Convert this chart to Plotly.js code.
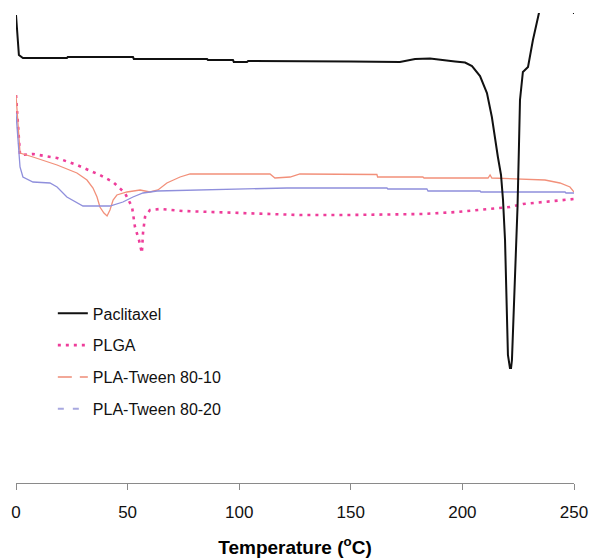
<!DOCTYPE html>
<html>
<head>
<meta charset="utf-8">
<script src="https://cdn.plot.ly/plotly-3.0.1.min.js"></script>
<style>html,body{margin:0;padding:0;background:#fff;}#chart{width:591px;height:558px;}</style>
</head>
<body>
<div id="chart"></div>
<script>
// Temperature (°C) and heat flow (arbitrary units)
var pacT = [0,1.3,3.1,22.8,23.2,52.4,52.8,85.6,86,97.2,97.6,103.5,104,127,150,172,178.8,185.5,190,196.7,201.2,204.3,207.9,211,213.2,214.6,215.9,217.3,218.2,219.1,219.5,220,220.4,221.3,221.8,222.2,222.7,223.3,224,224.7,225.3,225.8,227.1,229.4,231.6,234.3,236,249,250];
var pacY = [46.8,42.8,42.5,42.5,42.6,42.6,42.4,42.4,42.3,42.3,42.1,42.1,42.2,42.2,42.15,42.1,42.4,42.45,42.3,42.15,42.05,41.7,40.7,39.0,36.6,34.3,32.6,30.8,28.3,24.3,19.8,15.3,12.8,11.5,11.5,12.3,15.3,19.0,22.8,27.6,33.3,38.3,41.1,41.6,44.3,47.0,49.3,49.3,46.9];

var plgaT = [0,0.9,1.8,7.6,18.4,27.3,37.6,43.5,48.8,52,53.3,55.1,56.4,56.9,57.8,60,64.5,74.8,90,104.8,127,149.6,182.3,197.6,212.4,221.3,227.1,242.4,250];
var plgaY = [38.8,35.8,32.8,32.9,32.5,31.8,30.8,30.1,29.0,27.6,25.6,24.3,23.0,25.0,26.6,27.3,27.4,27.2,27.1,27.0,26.8,26.8,26.9,27.1,27.4,27.6,27.9,28.2,28.4];

var tw10T = [0,1.8,7.6,18.4,27.3,31.8,34.5,36.3,37.6,39.4,40.8,42.1,43.5,45.2,49.7,55.6,60,63.6,67.6,73.5,78,113.8,116,122.8,127.2,161.7,162,182.3,182.8,211.5,212.4,213.2,237,243.7,248.2,250];
var tw10Y = [38.8,33.0,32.6,31.8,31.0,30.3,29.5,28.6,27.6,27.0,26.7,27.3,28.3,28.8,29.1,29.3,29.1,29.3,30.0,30.6,30.9,30.9,30.5,30.6,30.9,30.85,30.6,30.6,30.5,30.5,30.8,30.5,30.3,30.0,29.6,29.1];

var tw20T = [0,0.9,1.8,3.1,7.6,15.2,18.4,22.8,27.3,30,42.1,47.9,52.4,56.9,63.2,86.9,101.7,121.4,166.2,166.6,184.1,184.6,207.9,208.3,246,246.4,250];
var tw20Y = [37.0,34.0,31.6,30.6,30.1,30.0,29.6,28.6,28.0,27.7,27.7,28.1,28.6,29.0,29.2,29.3,29.4,29.5,29.5,29.4,29.4,29.2,29.2,29.1,29.1,29.0,29.0];

var names = ['Paclitaxel','PLGA','PLA-Tween 80-10','PLA-Tween 80-20'];
var tickVals = [0,50,100,150,200,250];
var tickText = ['0','50','100','150','200','250'];

var FONT = '"Liberation Sans", Arial, sans-serif';

var traces = [
  {x: plgaT, y: plgaY, name: names[1], mode: 'lines', legendgroup: 'b', legendrank: 2,
   line: {color: '#ee3d9a', width: 2.6, dash: '3px,5px'}},
  {x: tw10T, y: tw10Y, name: names[2], mode: 'lines', showlegend: false,
   line: {color: '#f2907a', width: 1.3}},
  {x: tw20T, y: tw20Y, name: names[3], mode: 'lines', showlegend: false,
   line: {color: '#8f8fdc', width: 1.3}},
  {x: pacT, y: pacY, name: names[0], mode: 'lines', legendgroup: 'a', legendrank: 1,
   line: {color: '#111111', width: 2}},
  {x: [null], y: [null], name: names[2], mode: 'lines', legendgroup: 'c', legendrank: 3,
   line: {color: '#f2a898', width: 2, dash: '14px,8px'}},
  {x: [null], y: [null], name: names[3], mode: 'lines', legendgroup: 'd', legendrank: 4,
   line: {color: '#a8a8e0', width: 2, dash: '6px,9px'}}
];

var layout = {
  width: 591, height: 558,
  margin: {l: 16, r: 17, t: 13, b: 75},
  paper_bgcolor: '#fff', plot_bgcolor: '#fff',
  showlegend: true,
  legend: {x: 0.066, y: 0.397, xanchor: 'left', yanchor: 'top',
           font: {family: FONT, size: 16, color: '#111'},
           bgcolor: 'rgba(0,0,0,0)', tracegroupgap: 8, traceorder: 'grouped'},
  xaxis: {range: [0, 250], tickvals: tickVals, ticktext: tickText,
          showline: true, linecolor: '#8a8a8a', linewidth: 1,
          ticks: 'outside', ticklen: 6, tickcolor: '#8a8a8a', tickwidth: 1,
          ticklabelstandoff: 8,
          showgrid: false, zeroline: false,
          tickfont: {family: FONT, size: 17, color: '#111'},
          title: {text: '<b>Temperature (<sup>o</sup>C)</b>', font: {family: FONT, size: 19, color: '#000'}, standoff: 20}},
  yaxis: {visible: false, range: [0, 47], showgrid: false, zeroline: false}
};

Plotly.newPlot('chart', traces, layout, {displayModeBar: false, staticPlot: true});
</script>
</body>
</html>
